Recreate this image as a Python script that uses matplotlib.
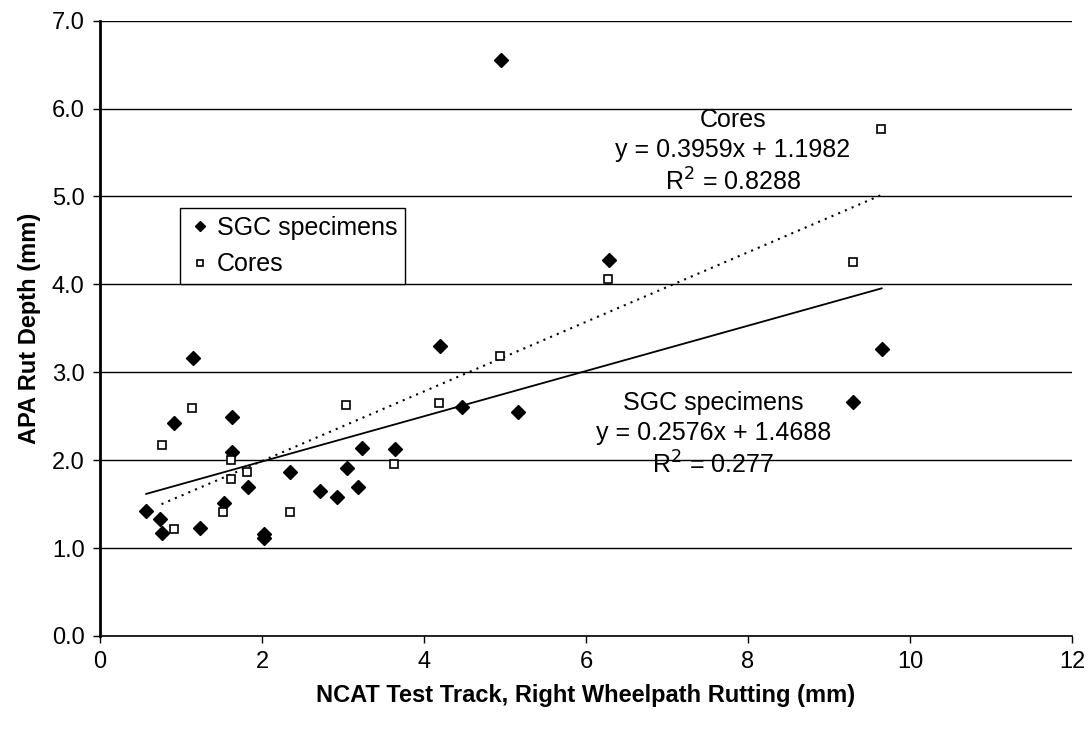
import numpy as np
import matplotlib
matplotlib.use("Agg")
import matplotlib.pyplot as plt

plt.rcParams['font.family'] = ['Liberation Sans', 'DejaVu Sans']

# Right wheelpath rutting (mm) vs APA rut depth (mm)
sgc_x = [0.57, 0.74, 0.77, 0.91, 1.15, 1.23, 1.53, 1.63, 1.63, 1.83, 2.03, 2.03, 2.34,
         2.72, 2.92, 3.05, 3.19, 3.23, 3.64, 4.20, 4.47, 4.95, 5.16, 6.28, 9.30, 9.65]
sgc_y = [1.42, 1.33, 1.17, 2.42, 3.16, 1.23, 1.51, 2.49, 2.09, 1.69, 1.16, 1.11, 1.86,
         1.65, 1.58, 1.91, 1.69, 2.14, 2.13, 3.30, 2.60, 6.55, 2.55, 4.28, 2.66, 3.26]

core_x = [0.76, 0.91, 1.14, 1.52, 1.62, 1.62, 1.82, 2.34, 3.04, 3.63, 4.19, 4.94, 6.27, 9.30, 9.64]
core_y = [2.17, 1.22, 2.59, 1.41, 2.00, 1.79, 1.86, 1.41, 2.63, 1.96, 2.65, 3.19, 4.06, 4.25, 5.77]

# linear trendline coefficients (slope, intercept, R^2)
sgc_fit = (0.2576, 1.4688, 0.277)
core_fit = (0.3959, 1.1982, 0.8288)

fig = plt.figure(figsize=(10.89, 7.29), dpi=100)
ax = fig.add_axes([0.0918, 0.1277, 0.8926, 0.8439])

ax.set_xlim(0, 12)
ax.set_ylim(0, 7)
ax.set_xticks(np.arange(0, 13, 2))
ax.set_yticks(np.arange(0, 7.1, 1))
ax.set_yticklabels(['%.1f' % v for v in np.arange(0, 7.1, 1)])
ax.grid(axis='y', color='black', linewidth=1.0)
ax.set_axisbelow(True)

for s in ['top', 'right']:
    ax.spines[s].set_visible(False)
ax.spines['left'].set_linewidth(2.0)
ax.spines['bottom'].set_linewidth(1.2)
ax.tick_params(direction='out', length=5, width=1, labelsize=17, colors='black', pad=6)

# trendlines over each series' range
xs = np.array([min(sgc_x), max(sgc_x)])
ax.plot(xs, sgc_fit[0] * xs + sgc_fit[1], color='black', linewidth=1.3)
xc = np.array([min(core_x), max(core_x)])
ax.plot(xc, core_fit[0] * xc + core_fit[1], color='black', linewidth=1.5, linestyle=(0, (1, 2.5)))

ax.plot(sgc_x, sgc_y, linestyle='none', marker='D', markersize=7, color='black',
        label='SGC specimens', zorder=3)
ax.plot(core_x, core_y, linestyle='none', marker='s', markersize=6, markerfacecolor='white',
        markeredgecolor='black', markeredgewidth=1.2, label='Cores', zorder=3)

ax.text(7.57, 2.29, 'SGC specimens\ny = %.4fx + %.4f\nR$^2$ = %s' % (sgc_fit[0], sgc_fit[1], sgc_fit[2]),
        ha='center', va='center', fontsize=18, linespacing=1.3)
ax.text(7.81, 5.51, 'Cores\ny = %.4fx + %.4f\nR$^2$ = %s' % (core_fit[0], core_fit[1], core_fit[2]),
        ha='center', va='center', fontsize=18, linespacing=1.3)

leg = ax.legend(loc='upper left', bbox_to_anchor=(0.082, 0.695), borderaxespad=0,
                fontsize=18, fancybox=False, edgecolor='black', framealpha=1,
                handletextpad=0.2, handlelength=1.0, markerscale=0.7, borderpad=0.3)
leg.get_frame().set_linewidth(1.0)

ax.set_xlabel('NCAT Test Track, Right Wheelpath Rutting (mm)', fontsize=17, fontweight='bold', labelpad=8)
ax.set_ylabel('APA Rut Depth (mm)', fontsize=17, fontweight='bold', labelpad=8)

fig.savefig('out.png', dpi=100)
